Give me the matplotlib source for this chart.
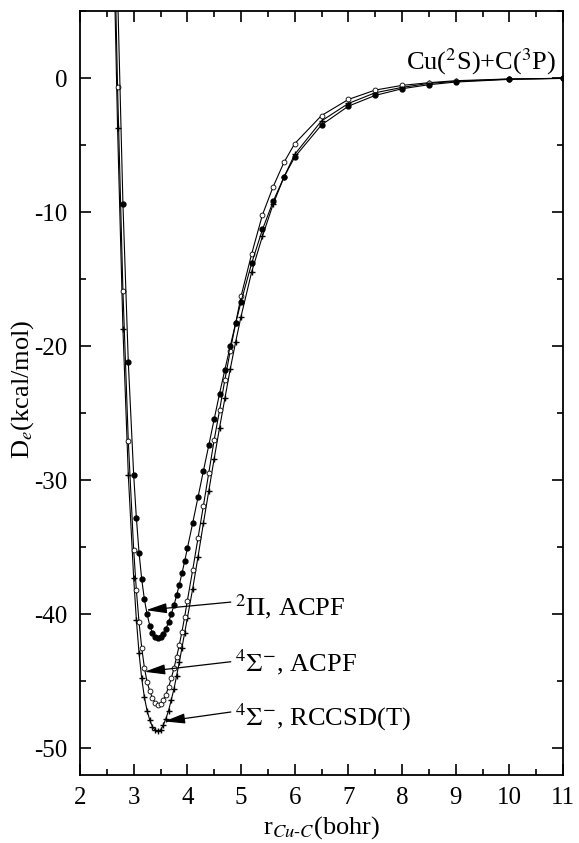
import matplotlib
matplotlib.use('Agg')
import matplotlib.pyplot as plt
from matplotlib.ticker import MultipleLocator

plt.rcParams['font.family'] = ['Liberation Serif', 'DejaVu Serif']
plt.rcParams['mathtext.fontset'] = 'stix'
plt.rcParams['axes.unicode_minus'] = False

# bond length grid (bohr), shared by the three curves
r = [2.6, 2.7, 2.8, 2.9, 3.0, 3.05, 3.1, 3.15, 3.2, 3.25, 3.3, 3.35, 3.4, 3.45,
     3.5, 3.55, 3.6, 3.65, 3.7, 3.75, 3.8, 3.85, 3.9, 3.95, 4.0, 4.1, 4.2, 4.3,
     4.4, 4.5, 4.6, 4.7, 4.8, 4.9, 5.0, 5.2, 5.4, 5.6, 5.8, 6.0, 6.5, 7.0, 7.5,
     8.0, 8.5, 9.0, 10.0, 11.0]

# 2Pi, ACPF (filled circles)
pi_acpf = [25.0, 6.5, -9.4, -21.2, -29.6, -32.8, -35.4, -37.4, -38.9, -40.0,
           -40.85, -41.4, -41.7, -41.8, -41.7, -41.45, -41.1, -40.6, -40.0,
           -39.35, -38.6, -37.8, -36.95, -36.05, -35.1, -33.2, -31.25, -29.3,
           -27.4, -25.45, -23.55, -21.75, -20.0, -18.3, -16.7, -13.8, -11.3,
           -9.2, -7.4, -5.9, -3.5, -2.1, -1.3, -0.8, -0.5, -0.3, -0.1, -0.03]

# 4Sigma-, ACPF (open circles)
sig_acpf = [18.0, -0.7, -15.9, -27.1, -35.2, -38.2, -40.6, -42.5, -44.0, -45.05,
            -45.75, -46.25, -46.6, -46.8, -46.7, -46.4, -46.0, -45.45, -44.8,
            -44.05, -43.2, -42.3, -41.3, -40.2, -39.0, -36.7, -34.3, -31.9,
            -29.45, -27.0, -24.8, -22.5, -20.35, -18.3, -16.3, -13.1, -10.2,
            -8.1, -6.3, -4.9, -2.8, -1.6, -0.9, -0.55, -0.35, -0.2, -0.07, -0.02]

# 4Sigma-, RCCSD(T) (crosses)
sig_ccsdt = [15.0, -3.7, -18.7, -29.6, -37.3, -40.4, -42.9, -44.8, -46.2, -47.2,
             -47.9, -48.4, -48.65, -48.75, -48.65, -48.3, -47.8, -47.2, -46.4,
             -45.6, -44.6, -43.6, -42.5, -41.4, -40.3, -38.1, -35.7, -33.2,
             -30.8, -28.4, -26.1, -23.9, -21.7, -19.7, -17.8, -14.45, -11.8,
             -9.4, -7.4, -5.7, -3.2, -1.9, -1.1, -0.7, -0.4, -0.25, -0.08, -0.02]

fig = plt.figure(figsize=(5.79, 8.43), dpi=100)
ax = fig.add_axes([80 / 579, 68 / 843, 483 / 579, 764 / 843])

ax.plot(r, sig_ccsdt, color='k', lw=0.8, marker='+', ms=5, mew=1.0)
ax.plot(r, sig_acpf, color='k', lw=0.8, marker='o', ms=3.5, mfc='white', mec='k', mew=0.6)
ax.plot(r, pi_acpf, color='k', lw=0.8, marker='o', ms=3.5, mfc='k', mec='k')

ax.set_xlim(2, 11)
ax.set_ylim(-52, 5)
ax.xaxis.set_major_locator(MultipleLocator(1))
ax.xaxis.set_minor_locator(MultipleLocator(0.5))
ax.yaxis.set_major_locator(MultipleLocator(10))
ax.yaxis.set_minor_locator(MultipleLocator(5))
ax.tick_params(which='both', direction='in', top=True, right=True,
               width=1.2, labelsize=18, pad=9)
ax.tick_params(which='major', length=8)
ax.tick_params(which='minor', length=4)
for s in ax.spines.values():
    s.set_linewidth(1.3)

ax.set_xlabel(r'r$_{Cu\text{-}C}$(bohr)', fontsize=19, labelpad=3)
ax.set_ylabel(r'D$_e$(kcal/mol)', fontsize=19)
ax.yaxis.set_label_coords(-0.092, 0.505)

ax.text(10.88, 0.6, r'Cu($^2$S)+C($^3$P)', fontsize=19, ha='right', va='baseline')

labels = [r'$^2\Pi$, ACPF', r'$^4\Sigma^{-}$, ACPF', r'$^4\Sigma^{-}$, RCCSD(T)']
label_y = [-40.1, -44.3, -48.3]
arrow_tail = [(4.81, -39.1), (4.81, -43.55), (4.81, -47.3)]
arrow_head = [(3.23, -39.7), (3.20, -44.3), (3.57, -48.0)]
for lab, ly, tail, head in zip(labels, label_y, arrow_tail, arrow_head):
    ax.text(4.89, ly, lab, fontsize=19, va='baseline', ha='left')
    ax.annotate('', xy=head, xytext=tail,
                arrowprops=dict(arrowstyle='-|>,head_length=0.9,head_width=0.22',
                                color='k', lw=0.9, mutation_scale=14,
                                shrinkA=0, shrinkB=0))

fig.savefig('out.png', dpi=100)
